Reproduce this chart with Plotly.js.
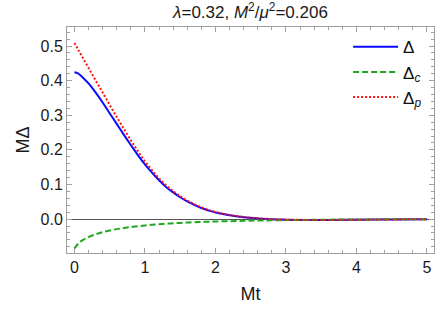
<!DOCTYPE html>
<html>
<head>
<meta charset="utf-8">
<script src="https://cdn.plot.ly/plotly-3.0.1.min.js"></script>
<style>html,body{margin:0;padding:0;background:#fff;}#chart{width:436px;height:309px;}</style>
</head>
<body>
<div id="chart"></div>
<script>
// Mt values
const mt = [0, 0.05, 0.1, 0.2, 0.3, 0.4, 0.5, 0.6, 0.7, 0.8, 0.9, 1.0, 1.1, 1.2, 1.3, 1.4, 1.5, 1.6, 1.7, 1.8, 1.9, 2.0, 2.2, 2.4, 2.6, 2.8, 3.0, 3.3, 3.6, 4.0, 4.5, 5.0];
// M*Delta (total)
const delta = [0.424, 0.421, 0.413, 0.392, 0.366, 0.337, 0.306, 0.275, 0.244, 0.214, 0.185, 0.158, 0.134, 0.112, 0.093, 0.077, 0.063, 0.051, 0.041, 0.032, 0.025, 0.019, 0.011, 0.0055, 0.002, -0.0005, -0.0018, -0.0025, -0.0025, -0.002, -0.001, -0.0005];
// M*Delta_c
const deltaC = [-0.085, -0.072, -0.063, -0.052, -0.044, -0.038, -0.033, -0.029, -0.026, -0.023, -0.0205, -0.0185, -0.0165, -0.015, -0.0135, -0.012, -0.011, -0.010, -0.009, -0.0083, -0.0076, -0.007, -0.006, -0.005, -0.0042, -0.0035, -0.003, -0.0023, -0.0017, -0.0012, -0.0007, -0.0004];
// M*Delta_p
const deltaP = [0.509, 0.491, 0.473, 0.437, 0.401, 0.366, 0.330, 0.295, 0.261, 0.228, 0.1965, 0.167, 0.1415, 0.118, 0.098, 0.081, 0.066, 0.0535, 0.043, 0.0338, 0.0266, 0.0205, 0.012, 0.0062, 0.0025, -0.0003, -0.0016, -0.0023, -0.0024, -0.0019, -0.001, -0.0005];

const names = ['Δ', 'Δ<sub><i>c</i></sub>', 'Δ<sub><i>p</i></sub>'];
const xTicks = [0, 1, 2, 3, 4, 5];
const yTicks = [-0.1, 0.0, 0.1, 0.2, 0.3, 0.4, 0.5];

const font = 'Liberation Sans, Arial, Helvetica, sans-serif';

const traces = [
  {x: mt, y: delta, name: names[0], mode: 'lines', line: {color: '#0a0aff', width: 2, shape: 'spline'}},
  {x: mt, y: deltaC, name: names[1], mode: 'lines', line: {color: '#1fa81f', width: 2, dash: '6px,3px', shape: 'spline'}},
  {x: mt, y: deltaP, name: names[2], mode: 'lines', line: {color: '#ff1010', width: 2, dash: '2px,2px', shape: 'spline'}}
];

const axisCommon = {
  showgrid: false,
  showline: true,
  linecolor: '#a0a0a0',
  linewidth: 1,
  mirror: 'ticks',
  ticks: 'inside',
  ticklen: 5,
  tickcolor: '#a0a0a0',
  tickwidth: 1,
  tickfont: {family: font, size: 16, color: '#1a1a1a'},
};

const layout = {
  width: 436,
  height: 309,
  margin: {l: 67, r: 2, t: 27, b: 56},
  paper_bgcolor: '#fff',
  plot_bgcolor: '#fff',
  font: {family: font, color: '#1a1a1a'},
  title: {
    text: '<i>λ</i>=0.32, <i>M</i><sup>2</sup>/<i>μ</i><sup>2</sup>=0.206',
    font: {family: font, size: 17, color: '#1a1a1a'},
    xref: 'paper', x: 0.5, xanchor: 'center',
    y: 0.962, yanchor: 'middle'
  },
  xaxis: Object.assign({}, axisCommon, {
    range: [-0.105, 5.1],
    tickvals: xTicks,
    ticktext: xTicks.map(String),
    zeroline: false,
    minor: {dtick: 0.2, tick0: 0, ticks: 'inside', ticklen: 3, tickcolor: '#a0a0a0', showgrid: false},
    title: {text: 'Mt', font: {family: font, size: 18, color: '#1a1a1a'}, standoff: 12}
  }),
  yaxis: Object.assign({}, axisCommon, {
    range: [-0.098, 0.555],
    tickvals: yTicks,
    tickformat: '.1f',
    zeroline: true,
    zerolinecolor: '#555',
    zerolinewidth: 1,
    minor: {dtick: 0.02, tick0: 0, ticks: 'inside', ticklen: 3, tickcolor: '#a0a0a0', showgrid: false},
    title: {text: 'MΔ', font: {family: font, size: 18, color: '#1a1a1a'}, standoff: 6}
  }),
  showlegend: true,
  legend: {
    x: 0.766, y: 0.99, xanchor: 'left', yanchor: 'top',
    bgcolor: 'rgba(0,0,0,0)',
    font: {family: font, size: 17, color: '#111'},
    itemwidth: 45,
    tracegroupgap: 0
  }
};

Plotly.newPlot('chart', traces, layout, {displayModeBar: false, staticPlot: true});
</script>
</body>
</html>
